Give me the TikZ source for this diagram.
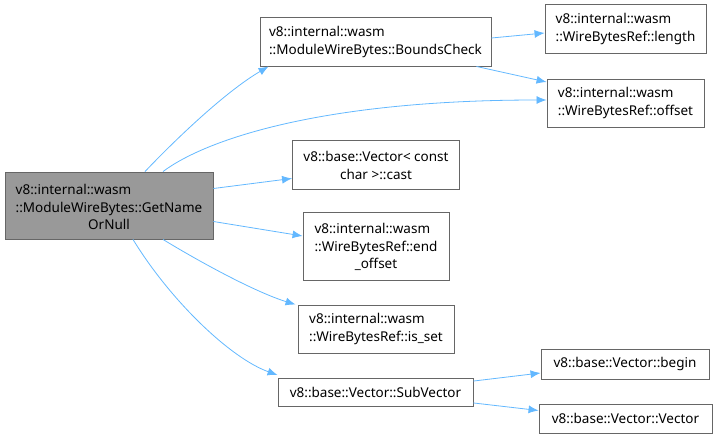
\documentclass[tikz,border=0pt]{standalone}
\usepackage{fontspec}
\setmainfont{Noto Sans}
\usepackage{tikz}
\usetikzlibrary{arrows.meta}

\definecolor{edgeblue}{HTML}{63B8FF}
\definecolor{boxline}{HTML}{666666}
\definecolor{mainfill}{HTML}{999999}

\tikzset{
    fn/.style={draw=boxline, line width=0.9pt, rectangle, inner sep=0pt,
        align=center, font=\fontsize{13.5}{18}\selectfont, fill=white},
    call/.style={draw=edgeblue, line width=0.8pt, -{Latex[length=10pt,width=8pt]}},
}

\newcommand{\lines}[1]{\begin{tabular}{@{}l@{}}#1\end{tabular}}

\begin{document}
\begin{tikzpicture}[x=1pt, y=-1pt]

    \useasboundingbox (0,0) rectangle (717,439);

    % Caller
    \node[fn, fill=mainfill, minimum width=208, minimum height=67] (main) at (109,205.5)
        {\lines{v8::internal::wasm\\::ModuleWireBytes::GetName}\\OrNull};

    % Callees, first column
    \node[fn, minimum width=231, minimum height=49] (boundscheck) at (375.5,41.5)
        {\lines{v8::internal::wasm\\::ModuleWireBytes::BoundsCheck}};
    \node[fn, minimum width=167, minimum height=49] (cast) at (376,164.5)
        {\lines{v8::base::Vector< const}\\char >::cast};
    \node[fn, minimum width=146, minimum height=68] (endoffset) at (376,246)
        {\lines{v8::internal::wasm\\::WireBytesRef::end}\\\_offset};
    \node[fn, minimum width=156, minimum height=48] (isset) at (376,329)
        {\lines{v8::internal::wasm\\::WireBytesRef::is\_set}};
    \node[fn, minimum width=195, minimum height=28] (subvector) at (375.5,392.5)
        {v8::base::Vector::SubVector};

    % Callees, second column
    \node[fn, minimum width=161, minimum height=49] (length) at (625.5,29)
        {\lines{v8::internal::wasm\\::WireBytesRef::length}};
    \node[fn, minimum width=157, minimum height=48] (offset) at (625.5,103)
        {\lines{v8::internal::wasm\\::WireBytesRef::offset}};
    \node[fn, minimum width=168, minimum height=30] (vbegin) at (625,364)
        {v8::base::Vector::begin};
    \node[fn, minimum width=173, minimum height=29] (vvector) at (625.5,418.5)
        {v8::base::Vector::Vector};

    % Calls from the caller
    \draw[call] ([xshift=36pt]main.north) .. controls (175,140) and (225,92) .. ([xshift=9pt]boundscheck.south west);
    \draw[call] ([xshift=54pt]main.north) .. controls (205,140) and (320,100) .. ([yshift=3pt]offset.west);
    \draw[call] ([yshift=17pt]main.east) -- ([yshift=11pt]cast.south west);
    \draw[call] ([yshift=-16pt]main.east) -- ([yshift=10pt]endoffset.west);
    \draw[call] ([xshift=54pt]main.south) .. controls (200,262) and (255,292) .. ([xshift=-2pt]isset.north west);
    \draw[call] ([xshift=24pt]main.south) .. controls (170,300) and (230,358) .. ([yshift=3pt]subvector.north west);

    % Calls one level down
    \draw[call] ([yshift=3.5pt]boundscheck.east) -- ([yshift=-4pt]length.west);
    \draw[call] ([xshift=-15pt]boundscheck.south east) -- ([yshift=21pt]offset.west);
    \draw[call] ([yshift=-3pt]subvector.north east) -- ([yshift=-9pt]vbegin.west);
    \draw[call] ([yshift=4pt]subvector.south east) -- ([yshift=8pt]vvector.west);

\end{tikzpicture}
\end{document}
